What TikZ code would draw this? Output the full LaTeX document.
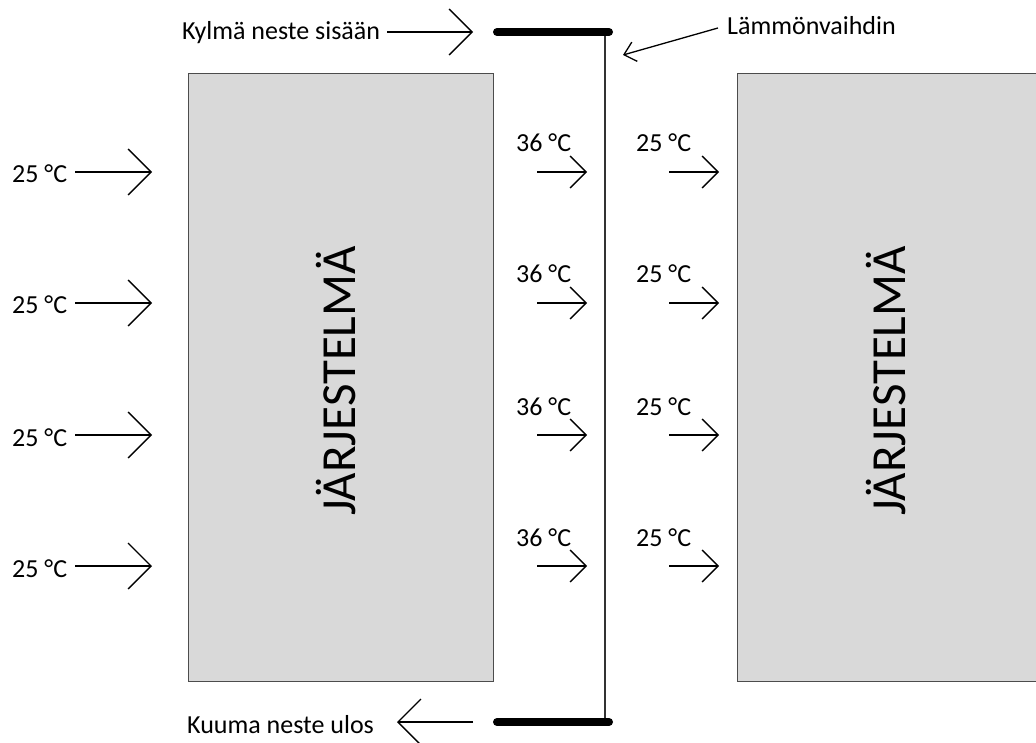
\documentclass[tikz,border=0pt]{standalone}
\usepackage{fontspec}
\setmainfont{Carlito}
\usetikzlibrary{arrows.meta}
\begin{document}
\begin{tikzpicture}[x=1pt,y=-1pt,
  lbl/.style={font=\fontsize{26}{30}\selectfont, inner sep=0pt, anchor=base west},
  big/.style={font=\fontsize{49}{55}\selectfont, rotate=90, inner sep=0pt, anchor=base},
  sysbox/.style={draw=black!70, fill={rgb,255:red,217;green,217;blue,217}, line width=1pt, inner sep=0pt, anchor=north west},
  arr/.style={line width=1.3pt, -{Straight Barb[length=23pt,width=46pt]}},
  arrs/.style={line width=1.3pt, -{Straight Barb[length=16pt,width=32pt]}},
  arrt/.style={line width=1.3pt, -{Straight Barb[length=11pt,width=20pt]}},
  bar/.style={line width=8pt, line cap=round},
  wall/.style={line width=1.2pt, draw=black!80}
]
\useasboundingbox (0,0) rectangle (1036,743);
\clip (0,0) rectangle (1036,743);

% system boxes
\node[sysbox, minimum width=305pt, minimum height=608pt] (s1) at (188,73) {};
\node[sysbox, minimum width=305pt, minimum height=608pt] (s2) at (737,73) {};
\node[big] (t1) at (355,381) {JÄRJESTELMÄ};
\node[big] (t2) at (905,381) {JÄRJESTELMÄ};

% heat exchanger
\coordinate (bt1) at (497,32);
\coordinate (bt2) at (609,32);
\coordinate (bb1) at (497,722);
\coordinate (bb2) at (609,722);
\coordinate (vt) at (605,32);
\coordinate (vb) at (605,722);
\draw[wall] (vt) -- (vb);
\draw[bar] (bt1) -- (bt2);
\draw[bar] (bb1) -- (bb2);

% inlet / outlet
\node[lbl] (kin) at (182,40) {Kylmä neste sisään};
\coordinate (kins) at (387,32);
\coordinate (kine) at (473,32);
\draw[arr] (kins) -- (kine);

\node[lbl] (kout) at (187,733) {Kuuma neste ulos};
\coordinate (kouts) at (473,722);
\coordinate (koute) at (397,722);
\draw[arr] (kouts) -- (koute);

\node[lbl] (lv) at (727,35) {Lämmönvaihdin};
\coordinate (lvs) at (718,28);
\coordinate (lve) at (623,55);
\draw[arrt] (lvs) -- (lve);

% rows
\foreach \y [count=\i] in {172,303,435,566}{
  \node[lbl] (la\i) at (12,\y+11) {25 °C};
  \coordinate (las\i) at (75,\y);
  \coordinate (lae\i) at (152,\y);
  \draw[arr] (las\i) -- (lae\i);
  \node[lbl] (ma\i) at (516,\y-20) {36 °C};
  \coordinate (mas\i) at (537,\y);
  \coordinate (mae\i) at (587,\y);
  \draw[arrs] (mas\i) -- (mae\i);
  \node[lbl] (ra\i) at (636,\y-20) {25 °C};
  \coordinate (ras\i) at (669,\y);
  \coordinate (rae\i) at (719,\y);
  \draw[arrs] (ras\i) -- (rae\i);
}
\end{tikzpicture}
\end{document}
